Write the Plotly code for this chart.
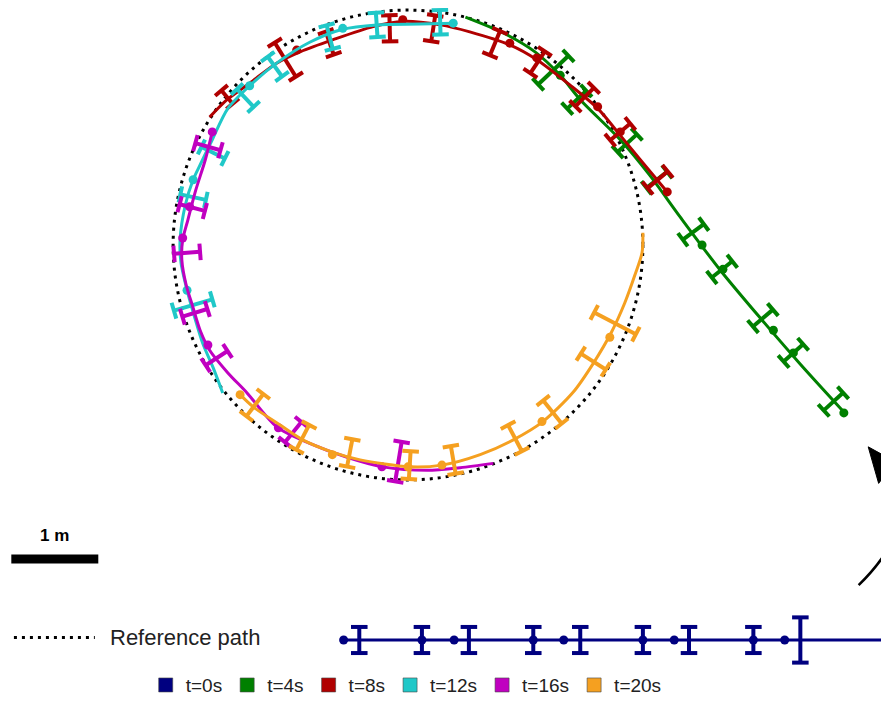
import math
import plotly.graph_objects as go

# ---------------- data (metres, origin at centre of reference circle) ----------------
series_names = ["t=0s", "t=4s", "t=8s", "t=12s", "t=16s", "t=20s"]
series_colors = ["#000080", "#008000", "#b00000", "#20c8c8", "#c000c0", "#f5a020"]

# t=0s (straight segment)
t0_path_x = [-0.78, 5.70]
t0_path_y = [-4.54, -4.54]
t0_dot_x = [-0.74, 0.16, 0.53, 1.44, 1.79, 2.70, 3.06, 3.97, 4.33]
t0_dot_y = [-4.54, -4.54, -4.54, -4.54, -4.54, -4.54, -4.54, -4.54, -4.54]
t0_bar_x = [-0.56, 0.16, 0.70, 1.44, 1.98, 2.70, 3.23, 3.97, 4.51]
t0_bar_y = [-4.54, -4.54, -4.54, -4.54, -4.54, -4.54, -4.54, -4.54, -4.54]
t0_bar_e = [0.15, 0.15, 0.15, 0.15, 0.15, 0.15, 0.15, 0.15, 0.26]

# t=4s
t4_path_x = [0.66, 1.09, 1.46, 1.75, 1.98, 2.44, 2.78, 3.13, 3.59, 4.05, 4.51, 5.02]
t4_path_y = [2.62, 2.44, 2.22, 1.95, 1.67, 1.21, 0.80, 0.32, -0.29, -0.84, -1.37, -1.93]
t4_dot_x = [1.75, 3.38, 3.62, 4.20, 4.43, 5.01]
t4_dot_y = [1.95, 0.00, -0.28, -0.98, -1.24, -1.93]
t4_bar_x = [1.67, 1.94, 2.52, 2.86, 3.28, 3.61, 4.08, 4.43, 4.89]
t4_bar_y = [2.01, 1.67, 1.17, 0.75, 0.15, -0.28, -0.84, -1.24, -1.80]
t4_bar_e = [0.24, 0.15, 0.15, 0.15, 0.15, 0.15, 0.15, 0.15, 0.15]

# t=8s
t8_path_x = [2.98, 2.67, 2.44, 2.18, 1.86, 1.48, 1.17, 0.71, 0.37, -0.06, -0.40, -0.86, -1.24, -1.51, -1.82, -2.08, -2.28]
t8_path_y = [0.61, 0.98, 1.26, 1.57, 1.84, 2.13, 2.30, 2.45, 2.53, 2.57, 2.51, 2.36, 2.22, 2.09, 1.86, 1.67, 1.47]
t8_dot_x = [2.98, 2.44, 2.18, 1.48, 1.17, -0.06, -1.28]
t8_dot_y = [0.61, 1.30, 1.59, 2.15, 2.32, 2.59, 2.24]
t8_bar_x = [2.87, 2.44, 2.03, 1.49, 1.00, 0.29, -0.21, -0.90, -1.41, -2.08]
t8_bar_y = [0.75, 1.30, 1.70, 2.10, 2.32, 2.49, 2.49, 2.32, 2.13, 1.70]
t8_bar_e = [0.15, 0.15, 0.15, 0.15, 0.15, 0.15, 0.15, 0.14, 0.23, 0.10]

# t=12s
t12_path_x = [0.52, 0.14, -0.36, -0.75, -1.13, -1.51, -1.82, -2.07, -2.25, -2.39, -2.47, -2.56, -2.62, -2.61, -2.54, -2.45, -2.36, -2.24, -2.13]
t12_path_y = [2.55, 2.54, 2.53, 2.48, 2.33, 2.09, 1.83, 1.57, 1.21, 0.92, 0.75, 0.46, 0.06, -0.20, -0.52, -0.84, -1.13, -1.41, -1.70]
t12_dot_x = [0.52, -0.75, -1.82, -2.47, -2.54]
t12_dot_y = [2.55, 2.49, 1.83, 0.75, -0.52]
t12_bar_x = [0.37, -0.36, -0.90, -1.53, -1.87, -2.24, -2.47, -2.47]
t12_bar_y = [2.56, 2.53, 2.39, 2.05, 1.69, 1.06, 0.55, -0.69]
t12_bar_e = [0.14, 0.14, 0.14, 0.14, 0.14, 0.15, 0.15, 0.23]

# t=16s
t16_path_x = [-2.25, -2.33, -2.44, -2.53, -2.59, -2.60, -2.55, -2.48, -2.39, -2.28, -2.07, -1.85, -1.51, -1.13, -0.70, -0.29, 0.22, 0.60, 0.98]
t16_path_y = [1.30, 0.98, 0.63, 0.29, 0.06, -0.17, -0.46, -0.69, -0.98, -1.21, -1.47, -1.70, -2.09, -2.28, -2.44, -2.55, -2.59, -2.56, -2.51]
t16_dot_x = [-2.25, -2.51, -2.59, -2.30, -1.49, -0.30]
t16_dot_y = [1.30, 0.44, 0.08, -1.15, -2.10, -2.55]
t16_bar_x = [-2.30, -2.48, -2.54, -2.45, -2.20, -1.32, -0.11]
t16_bar_y = [1.13, 0.43, -0.09, -0.78, -1.30, -2.15, -2.49]
t16_bar_e = [0.15, 0.15, 0.15, 0.15, 0.15, 0.15, 0.23]

# t=20s
t20_path_x = [-1.93, -1.78, -1.47, -1.21, -0.87, -0.55, 0.02, 0.39, 0.83, 1.21, 1.55, 1.90, 2.13, 2.34, 2.49, 2.61, 2.69, 2.70]
t20_path_y = [-1.72, -1.86, -2.07, -2.24, -2.38, -2.47, -2.55, -2.53, -2.41, -2.24, -2.03, -1.69, -1.36, -1.00, -0.67, -0.34, -0.09, 0.14]
t20_dot_x = [-1.93, -0.87, 0.00, 0.39, 1.54, 2.32]
t20_dot_y = [-1.72, -2.41, -2.55, -2.53, -2.03, -1.06]
t20_bar_x = [-1.76, -1.21, -0.67, 0.02, 0.52, 1.23, 1.66, 2.13, 2.38]
t20_bar_y = [-1.84, -2.21, -2.39, -2.53, -2.47, -2.22, -1.92, -1.34, -0.90]
t20_bar_e = [0.16, 0.16, 0.16, 0.16, 0.16, 0.17, 0.17, 0.17, 0.27]

reference_radius = 2.70
scale_bar_length = 1.0

series = [
    (t0_path_x, t0_path_y, t0_dot_x, t0_dot_y, t0_bar_x, t0_bar_y, t0_bar_e),
    (t4_path_x, t4_path_y, t4_dot_x, t4_dot_y, t4_bar_x, t4_bar_y, t4_bar_e),
    (t8_path_x, t8_path_y, t8_dot_x, t8_dot_y, t8_bar_x, t8_bar_y, t8_bar_e),
    (t12_path_x, t12_path_y, t12_dot_x, t12_dot_y, t12_bar_x, t12_bar_y, t12_bar_e),
    (t16_path_x, t16_path_y, t16_dot_x, t16_dot_y, t16_bar_x, t16_bar_y, t16_bar_e),
    (t20_path_x, t20_path_y, t20_dot_x, t20_dot_y, t20_bar_x, t20_bar_y, t20_bar_e),
]

CAP = 0.095


def ibeams(px, py, bx, by, be):
    """Error bars drawn across the path (perpendicular to local heading)."""
    xs, ys = [], []
    for cx, cy, e in zip(bx, by, be):
        d = [(x - cx) ** 2 + (y - cy) ** 2 for x, y in zip(px, py)]
        i = d.index(min(d))
        i0, i1 = max(i - 1, 0), min(i + 1, len(px) - 1)
        tx, ty = px[i1] - px[i0], py[i1] - py[i0]
        n = math.hypot(tx, ty)
        tx, ty = tx / n, ty / n
        nx, ny = -ty, tx
        ax, ay = cx + nx * e, cy + ny * e
        bx_, by_ = cx - nx * e, cy - ny * e
        xs += [ax, bx_, None,
               ax - tx * CAP, ax + tx * CAP, None,
               bx_ - tx * CAP, bx_ + tx * CAP, None]
        ys += [ay, by_, None,
               ay - ty * CAP, ay + ty * CAP, None,
               by_ - ty * CAP, by_ + ty * CAP, None]
    return xs, ys


fig = go.Figure()

for name, col, (px, py, dx, dy, bx, by, be) in zip(series_names, series_colors, series):
    fig.add_trace(go.Scatter(x=px, y=py, mode="lines", line=dict(color=col, width=3, shape="spline", smoothing=0.8),
                             showlegend=False, hoverinfo="skip"))
    ix, iy = ibeams(px, py, bx, by, be)
    fig.add_trace(go.Scatter(x=ix, y=iy, mode="lines", line=dict(color=col, width=4),
                             showlegend=False, hoverinfo="skip"))
    fig.add_trace(go.Scatter(x=dx, y=dy, mode="markers", marker=dict(color=col, size=9),
                             showlegend=False, hoverinfo="skip"))

for name, col in zip(series_names, series_colors):
    fig.add_trace(go.Scatter(x=[None], y=[None], mode="markers", name=name,
                             marker=dict(symbol="square", size=14, color=col,
                                         line=dict(color="rgba(70,70,70,0.6)", width=1))))

# the page adds an 8 px body margin, so the figure covers page pixels 8..889 / 8..723
X_RANGE = [-4.598, 5.529]
Y_RANGE = [-5.494, 2.724]

shapes = [
    # reference path circle
    dict(type="circle", xref="x", yref="y", x0=-reference_radius, y0=-reference_radius,
         x1=reference_radius, y1=reference_radius,
         line=dict(color="black", width=3, dash="3px,5px"), layer="below"),
    # reference path legend sample
    dict(type="line", xref="x", yref="y", x0=-4.53, x1=-3.60, y0=-4.51, y1=-4.51,
         line=dict(color="black", width=3, dash="3px,5px")),
    # scale bar
    dict(type="line", xref="x", yref="y", x0=-4.56, x1=-4.56 + scale_bar_length, y0=-3.61, y1=-3.61,
         line=dict(color="black", width=9)),
    # curved arrow
    dict(type="path", xref="x", yref="y", path="M 5.18,-3.91 Q 5.94,-3.16 5.48,-2.59",
         line=dict(color="black", width=2.5)),
    dict(type="path", xref="x", yref="y", path="M 5.29,-2.32 L 5.41,-2.74 L 5.60,-2.49 Z",
         line=dict(color="black", width=1), fillcolor="black"),
]

annotations = [
    dict(x=-4.06, y=-3.34, xref="x", yref="y", text="<b>1 m</b>", showarrow=False,
         font=dict(size=17, color="black")),
    dict(x=-3.45, y=-4.51, xref="x", yref="y", text="Reference path", showarrow=False,
         xanchor="left", yanchor="middle", font=dict(size=22, color="#222")),
]

fig.update_layout(
    width=881, height=715,
    margin=dict(l=0, r=0, t=0, b=0),
    paper_bgcolor="white", plot_bgcolor="white",
    font=dict(family="Liberation Sans, Arial, sans-serif", color="#222"),
    xaxis=dict(range=X_RANGE, visible=False, fixedrange=True),
    yaxis=dict(range=Y_RANGE, visible=False, fixedrange=True),
    shapes=shapes,
    annotations=annotations,
    showlegend=True,
    legend=dict(orientation="h", x=0.452, xanchor="center", y=0.053, yanchor="middle",
                font=dict(size=19, color="#222"), bgcolor="rgba(0,0,0,0)"),
)

fig.write_html("out.html")
